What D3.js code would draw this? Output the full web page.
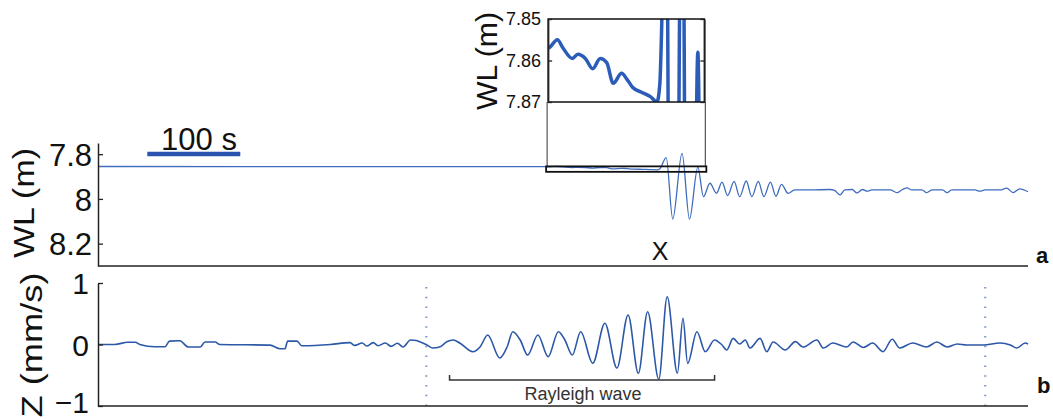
<!DOCTYPE html>
<html>
<head>
<meta charset="utf-8">
<script src="https://d3js.org/d3.v7.min.js"></script>
<style>
  html, body { margin: 0; padding: 0; background: #fff; }
  svg text { font-family: "Liberation Sans", Arial, Helvetica, sans-serif; fill: #111; }
</style>
</head>
<body>
<div id="chart"></div>
<script>
///////////////
//   data    //
///////////////

// panel a : water level (m) against time (s)
var wlTime  = [0, 481, 484, 494, 500, 510, 516, 524, 532, 540, 547, 554, 563, 569, 575, 585, 594, 601, 604,
               611, 618, 628, 636, 645, 651, 658, 665, 671, 677, 684, 690, 697, 703, 710, 716, 723, 729, 735,
               742, 749, 766, 787, 792, 798, 803, 811, 816, 822, 827, 832, 852, 859, 865, 870, 875, 886, 891,
               897, 908, 913, 918, 943, 948, 954, 970, 977, 984, 991, 1000];
var wlLevel = [7.855, 7.856, 7.857, 7.855, 7.857, 7.8595, 7.8585, 7.8595, 7.862, 7.8595, 7.8605, 7.8655, 7.8631,
               7.8646, 7.8665, 7.8677, 7.8687, 7.870, 7.866,
               7.815, 8.09, 7.796, 8.09, 7.858, 7.99, 7.93, 7.975, 7.925, 7.985, 7.922, 7.99, 7.92, 7.99, 7.922,
               7.99, 7.925, 7.988, 7.935, 7.975, 7.96, 7.96, 7.958, 7.962, 7.982, 7.96, 7.958, 7.973, 7.958, 7.965,
               7.96, 7.96, 7.972, 7.958, 7.951, 7.96, 7.96, 7.972, 7.96, 7.96, 7.972, 7.96, 7.96, 7.965, 7.96,
               7.96, 7.952, 7.972, 7.955, 7.968];

// panel b : vertical ground velocity (mm/s) against time (s)
var zTime     = [0, 18, 32, 40, 45, 61, 72, 77, 88, 97, 110, 115, 126, 131, 185, 196, 201, 204, 214, 219, 250,
                 271, 276, 284, 289, 296, 301, 309, 315, 322, 328, 336, 342, 346, 354, 360, 368, 375, 382, 389,
                 403, 411, 419, 432, 440, 446, 454, 462, 473, 484, 495, 502, 510, 519, 532, 545, 558, 570, 581,
                 591, 603, 612, 623, 629, 634, 644, 653, 663, 671, 676, 683, 690, 696, 701, 712, 719, 726, 739,
                 750, 758, 773, 780, 790, 805, 812, 823, 833, 844, 854, 862, 876, 891, 902, 913, 924, 934, 952,
                 970, 981, 988, 997, 1000];
var zVelocity = [0, 0, 0.036, 0.036, 0, -0.036, -0.036, 0.055, 0.06, -0.04, -0.04, 0.04, 0.04, 0, -0.01, -0.07,
                 -0.07, 0.055, 0.055, -0.02, 0,
                 0.03, -0.015, 0.025, -0.025, 0.03, -0.02, 0.025, -0.03, 0.02, -0.04, 0.073, 0.065, 0.045, -0.01,
                 -0.057, -0.036, 0.045, 0.073, 0.024,
                 -0.117, -0.036, 0.154, -0.22, -0.036, 0.208, 0.073, -0.171, 0.154, -0.198, 0.208, 0.073, -0.171,
                 0.208, -0.305, 0.346, -0.382, 0.48, -0.468,
                 0.533, -0.566, 0.776, -0.468, 0.427, -0.307, 0.208, -0.117, 0.073, -0.008, -0.089, 0.1, 0.008,
                 0.073, -0.057, 0.1, -0.117, 0.041, -0.089,
                 0.046, -0.041, 0.073, -0.057, 0.024, -0.041, 0.041, -0.049, 0.024, -0.117, 0.085, -0.057, 0.024,
                 -0.041, 0.041, -0.041, 0.008, -0.008, -0.008,
                 0.024, -0.008, -0.057, 0.024, 0.008];

// tick labels
var wlTicks    = [7.8, 8, 8.2];
var insetTicks = [7.85, 7.86, 7.87];
var zTicks     = [-1, 0, 1];
var zTickLabels = ["\u22121", "0", "1"];

// marks on the time axis (s)
var windowStart = 353;   // dotted lines
var windowEnd   = 954;
var rayleighStart = 378; // bracket
var rayleighEnd   = 663;
var insetStart = 484;    // zoomed window
var insetEnd   = 652;
var scaleBarStart = 53;
var scaleBarLength = 100;

///////////////
// constants //
///////////////

const chartWidth = 1053;
const chartHeight = 419;
const lineColor = "#3f6cbf";
const darkLine = "#2c58a8";
const axisColor = "#222";

var svg;

var xScale = d3.scaleLinear()
             .domain([0, 1000])
             .range([98, 1028]);

var wlScale = d3.scaleLinear()
              .domain([7.75, 8.3])
              .range([143, 266]);

var insetScale = d3.scaleLinear()
                 .domain([7.85, 7.87])
                 .range([19, 102]);

var zScale = d3.scaleLinear()
             .domain([-1, 1])
             .range([406, 283]);

////////////////
// draw image //
////////////////

setUpImage();
drawPanelA();
drawInset();
drawPanelB();

///////////////
// functions //
///////////////

function setUpImage() {
	svg = d3.select("#chart").append("svg")
	        .attr("width", chartWidth)
	        .attr("height", chartHeight);

	svg.append("rect")
	   .attr("width", "100%")
	   .attr("height", "100%")
	   .attr("fill", "#fff");
}

function styleAxis(g, size) {
	g.select(".domain").attr("stroke", axisColor).attr("stroke-width", 1.5);
	g.selectAll(".tick line").attr("stroke", axisColor).attr("stroke-width", 1.3);
	g.selectAll(".tick text")
	 .attr("fill", "#111")
	 .style("font-size", size + "px")
	 .style("font-family", "'Liberation Sans', Arial, sans-serif");
}

function drawPanelA() {
	var line = d3.line()
	             .x(function(d, i) { return xScale(wlTime[i]); })
	             .y(function(d) { return wlScale(d); })
	             .curve(d3.curveMonotoneX);

	svg.append("path")
	   .attr("d", line(wlLevel))
	   .attr("fill", "none")
	   .attr("stroke", lineColor)
	   .attr("stroke-width", 1.3);

	// left axis
	var yAxis = d3.axisLeft(wlScale)
	              .tickValues(wlTicks)
	              .tickFormat(function(d) { return String(d); })
	              .tickSizeInner(-5)
	              .tickSizeOuter(0)
	              .tickPadding(6);
	var g = svg.append("g")
	           .attr("transform", "translate(" + xScale.range()[0] + ",0)")
	           .call(yAxis);
	styleAxis(g, 31);
	g.selectAll(".tick text").attr("dy", "0.36em");

	// bottom line
	svg.append("line")
	   .attr("x1", xScale.range()[0]).attr("x2", xScale.range()[1])
	   .attr("y1", wlScale.range()[1]).attr("y2", wlScale.range()[1])
	   .attr("stroke", axisColor).attr("stroke-width", 1.5);

	// axis title
	svg.append("text")
	   .attr("transform", "translate(34," + 203 + ") rotate(-90)")
	   .attr("text-anchor", "middle")
	   .attr("textLength", 110)
	   .attr("lengthAdjust", "spacingAndGlyphs")
	   .style("font-size", "30px")
	   .text("WL (m)");

	// scale bar
	svg.append("line")
	   .attr("x1", xScale(scaleBarStart))
	   .attr("x2", xScale(scaleBarStart + scaleBarLength))
	   .attr("y1", 154).attr("y2", 154)
	   .attr("stroke", "#2b54b0")
	   .attr("stroke-width", 4.5);
	svg.append("text")
	   .attr("x", 199).attr("y", 150)
	   .attr("text-anchor", "middle")
	   .style("font-size", "31px")
	   .text("100 s");

	svg.append("text")
	   .attr("x", 660).attr("y", 260)
	   .attr("text-anchor", "middle")
	   .style("font-size", "25px")
	   .text("X");

	svg.append("text")
	   .attr("x", 1036).attr("y", 263)
	   .style("font-size", "22px")
	   .style("font-weight", "bold")
	   .text("a");
}

function drawInset() {
	var left = xScale(insetStart);
	var right = xScale(insetEnd);
	var top = insetScale.range()[0];
	var bottom = insetScale.range()[1];

	// zoom region on the main plot
	var y1 = wlScale(insetTicks[0]);
	var y2 = wlScale(insetTicks[2]);
	svg.append("line")
	   .attr("x1", left - 1).attr("x2", left - 1)
	   .attr("y1", bottom).attr("y2", y1 + 1)
	   .attr("stroke", "#555").attr("stroke-width", 1.2);
	svg.append("line")
	   .attr("x1", right + 1).attr("x2", right + 1)
	   .attr("y1", bottom).attr("y2", y1 + 1)
	   .attr("stroke", "#555").attr("stroke-width", 1.2);
	svg.append("rect")
	   .attr("x", left - 2).attr("y", y1 + 1)
	   .attr("width", right - left + 4).attr("height", y2 - y1 + 1)
	   .attr("fill", "none")
	   .attr("stroke", "#111")
	   .attr("stroke-width", 1.8);

	// clipped copy of the water level
	svg.append("clipPath").attr("id", "insetClip")
	   .append("rect")
	   .attr("x", left).attr("y", top)
	   .attr("width", right - left).attr("height", bottom - top);

	var line = d3.line()
	             .x(function(d, i) { return xScale(wlTime[i]); })
	             .y(function(d) { return insetScale(d); })
	             .curve(d3.curveMonotoneX);

	svg.append("path")
	   .attr("clip-path", "url(#insetClip)")
	   .attr("d", line(wlLevel))
	   .attr("fill", "none")
	   .attr("stroke", "#2a5cb8")
	   .attr("stroke-width", 3.5)
	   .attr("stroke-linejoin", "round");

	svg.append("rect")
	   .attr("x", left).attr("y", top)
	   .attr("width", right - left).attr("height", bottom - top)
	   .attr("fill", "none")
	   .attr("stroke", "#111")
	   .attr("stroke-width", 1.5);

	var yAxis = d3.axisLeft(insetScale)
	              .tickValues(insetTicks)
	              .tickFormat(function(d) { return d.toFixed(2); })
	              .tickSizeInner(-4)
	              .tickSizeOuter(0)
	              .tickPadding(7);
	var g = svg.append("g")
	           .attr("transform", "translate(" + left + ",0)")
	           .call(yAxis);
	styleAxis(g, 18);

	var rAxis = d3.axisRight(insetScale)
	              .tickValues(insetTicks)
	              .tickFormat("")
	              .tickSizeInner(-4)
	              .tickSizeOuter(0);
	var g2 = svg.append("g")
	            .attr("transform", "translate(" + right + ",0)")
	            .call(rAxis);
	styleAxis(g2, 18);

	svg.append("text")
	   .attr("transform", "translate(497," + 61 + ") rotate(-90)")
	   .attr("text-anchor", "middle")
	   .attr("textLength", 98)
	   .attr("lengthAdjust", "spacingAndGlyphs")
	   .style("font-size", "30px")
	   .text("WL (m)");
}

function drawPanelB() {
	// dotted window marks
	[windowStart, windowEnd].forEach(function(t) {
		svg.append("line")
		   .attr("x1", xScale(t)).attr("x2", xScale(t))
		   .attr("y1", 287).attr("y2", 410)
		   .attr("stroke", "#7f9bd0")
		   .attr("stroke-width", 2.2)
		   .attr("stroke-dasharray", "1.5,8.3");
	});

	var line = d3.line()
	             .x(function(d, i) { return xScale(zTime[i]); })
	             .y(function(d) { return zScale(d); })
	             .curve(d3.curveMonotoneX);

	svg.append("path")
	   .attr("d", line(zVelocity))
	   .attr("fill", "none")
	   .attr("stroke", darkLine)
	   .attr("stroke-width", 1.6)
	   .attr("stroke-linejoin", "round");

	var yAxis = d3.axisLeft(zScale)
	              .tickValues(zTicks)
	              .tickFormat(function(d, i) { return zTickLabels[i]; })
	              .tickSizeInner(-5)
	              .tickSizeOuter(0)
	              .tickPadding(9);
	var g = svg.append("g")
	           .attr("transform", "translate(" + xScale.range()[0] + ",0)")
	           .call(yAxis);
	styleAxis(g, 30);
	g.selectAll(".tick text").attr("dy", function(d) { return d < 0 ? "0.2em" : "0.36em"; });

	svg.append("line")
	   .attr("x1", xScale.range()[0]).attr("x2", xScale.range()[1])
	   .attr("y1", zScale.range()[0]).attr("y2", zScale.range()[0])
	   .attr("stroke", axisColor).attr("stroke-width", 1.5);

	svg.append("text")
	   .attr("transform", "translate(42," + 345 + ") rotate(-90)")
	   .attr("text-anchor", "middle")
	   .attr("textLength", 145)
	   .attr("lengthAdjust", "spacingAndGlyphs")
	   .style("font-size", "30px")
	   .text("Z (mm/s)");

	// Rayleigh bracket
	var bx1 = xScale(rayleighStart), bx2 = xScale(rayleighEnd);
	svg.append("path")
	   .attr("d", d3.line()([[bx1, 375], [bx1, 380], [bx2, 380], [bx2, 375]]))
	   .attr("fill", "none")
	   .attr("stroke", "#333")
	   .attr("stroke-width", 1.5);
	svg.append("text")
	   .attr("x", (bx1 + bx2) / 2 + 1).attr("y", 400)
	   .attr("text-anchor", "middle")
	   .style("font-size", "18px")
	   .style("fill", "#333")
	   .text("Rayleigh wave");

	svg.append("text")
	   .attr("x", 1037).attr("y", 393)
	   .style("font-size", "22px")
	   .style("font-weight", "bold")
	   .text("b");
}
</script>
</body>
</html>
